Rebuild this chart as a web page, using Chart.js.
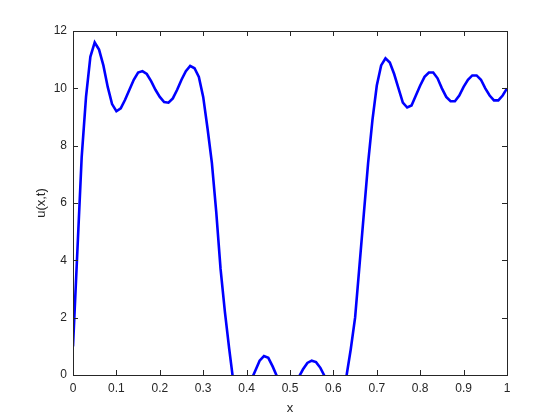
<html lang="en">
<head>
  <meta charset="UTF-8" />
  <title>u(x,t)</title>
  <script src="https://cdn.jsdelivr.net/npm/chart.js"></script>
  <style>
    body { margin: 0; background: #fff; }
    canvas { display: block; }
  </style>
</head>
<body>
  <canvas id="uChart" width="560" height="420"></canvas>

  <script>
    // sample positions and values
    const xs = [
      0.00, 0.01, 0.02, 0.03, 0.04, 0.05, 0.06, 0.07, 0.08, 0.09,
      0.10, 0.11, 0.12, 0.13, 0.14, 0.15, 0.16, 0.17, 0.18, 0.19,
      0.20, 0.21, 0.22, 0.23, 0.24, 0.25, 0.26, 0.27, 0.28, 0.29,
      0.30, 0.31, 0.32, 0.33, 0.34, 0.35, 0.36, 0.37, 0.38, 0.39,
      0.40, 0.41, 0.42, 0.43, 0.44, 0.45, 0.46, 0.47, 0.48, 0.49,
      0.50, 0.51, 0.52, 0.53, 0.54, 0.55, 0.56, 0.57, 0.58, 0.59,
      0.60, 0.61, 0.62, 0.63, 0.64, 0.65, 0.66, 0.67, 0.68, 0.69,
      0.70, 0.71, 0.72, 0.73, 0.74, 0.75, 0.76, 0.77, 0.78, 0.79,
      0.80, 0.81, 0.82, 0.83, 0.84, 0.85, 0.86, 0.87, 0.88, 0.89,
      0.90, 0.91, 0.92, 0.93, 0.94, 0.95, 0.96, 0.97, 0.98, 0.99,
      1.00
    ];
    const u = [
      1.0, 4.3, 7.6, 9.7, 11.1, 11.6, 11.35, 10.8, 10.05, 9.45,
      9.2, 9.3, 9.6, 9.95, 10.3, 10.55, 10.6, 10.5, 10.25, 9.95,
      9.7, 9.52, 9.5, 9.65, 9.95, 10.3, 10.6, 10.78, 10.7, 10.4,
      9.7, 8.6, 7.4, 5.7, 3.7, 2.2, 0.9, -0.3, -0.9, -1.0,
      -0.7, -0.2, 0.15, 0.5, 0.66, 0.6, 0.3, -0.05, -0.4, -0.6,
      -0.6, -0.4, -0.08, 0.2, 0.42, 0.5, 0.45, 0.25, -0.05, -0.5,
      -0.9, -0.9, -0.6, -0.05, 0.9, 2.0, 3.8, 5.6, 7.4, 8.9,
      10.1, 10.8, 11.05, 10.9, 10.5, 10.0, 9.5, 9.33, 9.4, 9.75,
      10.1, 10.4, 10.55, 10.55, 10.35, 10.0, 9.7, 9.55, 9.55, 9.75,
      10.05, 10.3, 10.45, 10.45, 10.3, 10.0, 9.75, 9.58, 9.58, 9.75,
      10.0
    ];
    const xTicks = [0, 0.1, 0.2, 0.3, 0.4, 0.5, 0.6, 0.7, 0.8, 0.9, 1];
    const yTicks = [0, 2, 4, 6, 8, 10, 12];

    const ink = '#262626';
    const tickFont = { family: 'Liberation Sans, Arial, sans-serif', size: 12 };

    // matlab style box with inward ticks on all four sides
    const boxPlugin = {
      id: 'box',
      afterDraw(chart) {
        const { ctx, chartArea: a, scales } = chart;
        const len = 5;
        ctx.save();
        ctx.strokeStyle = ink;
        ctx.lineWidth = 1;
        ctx.beginPath();
        xTicks.forEach(v => {
          const px = Math.round(scales.x.getPixelForValue(v)) + 0.5;
          ctx.moveTo(px, a.bottom); ctx.lineTo(px, a.bottom - len);
          ctx.moveTo(px, a.top); ctx.lineTo(px, a.top + len);
        });
        yTicks.forEach(v => {
          const py = Math.round(scales.y.getPixelForValue(v)) + 0.5;
          ctx.moveTo(a.left, py); ctx.lineTo(a.left + len, py);
          ctx.moveTo(a.right, py); ctx.lineTo(a.right - len, py);
        });
        ctx.stroke();
        ctx.strokeRect(Math.round(a.left) + 0.5, Math.round(a.top) + 0.5,
                       Math.round(a.right - a.left), Math.round(a.bottom - a.top));
        ctx.restore();
      }
    };

    new Chart(document.getElementById('uChart'), {
      type: 'line',
      data: {
        datasets: [{
          data: xs.map((x, i) => ({ x, y: u[i] })),
          borderColor: '#0000ff',
          borderWidth: 2.6,
          pointRadius: 0,
          tension: 0,
          clip: 0
        }]
      },
      options: {
        responsive: false,
        animation: false,
        layout: { padding: { top: 31, right: 53, left: 0, bottom: 0 } },
        plugins: { legend: { display: false }, tooltip: { enabled: false } },
        scales: {
          x: {
            type: 'linear', min: 0, max: 1,
            afterFit: s => { s.height = 45; },
            afterBuildTicks: s => { s.ticks = xTicks.map(v => ({ value: v })); },
            grid: { display: false, drawTicks: false },
            border: { display: false },
            ticks: {
              color: ink, font: tickFont, padding: 6, maxRotation: 0,
              callback: v => String(+v.toFixed(1))
            },
            title: {
              display: true, text: 'x', color: ink,
              font: { family: 'Liberation Sans, Arial, sans-serif', size: 13 },
              padding: { top: 0, bottom: 4 }
            }
          },
          y: {
            min: 0, max: 12,
            afterFit: s => { s.width = 73; },
            afterBuildTicks: s => { s.ticks = yTicks.map(v => ({ value: v })); },
            grid: { display: false, drawTicks: false },
            border: { display: false },
            ticks: { color: ink, font: tickFont, padding: 6 },
            title: {
              display: true, text: 'u(x,t)', color: ink,
              font: { family: 'Liberation Sans, Arial, sans-serif', size: 13 },
              padding: { top: 34, bottom: 0 }
            }
          }
        }
      },
      plugins: [boxPlugin]
    });
  </script>
</body>
</html>
